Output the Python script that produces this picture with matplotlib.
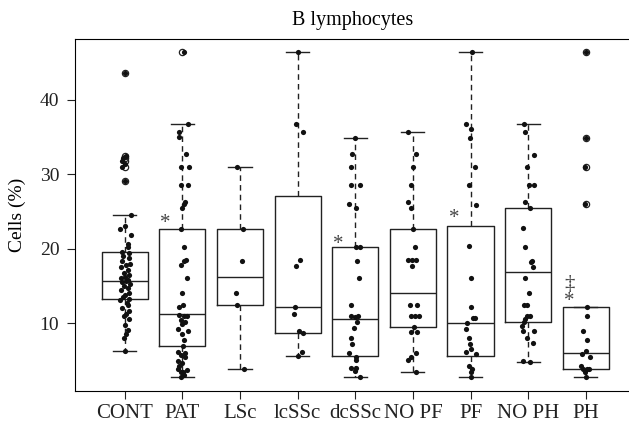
import matplotlib
matplotlib.use("Agg")
import matplotlib.pyplot as plt

plt.rcParams.update({
    "font.family": ["Liberation Serif", "DejaVu Serif"],
    "font.size": 14,
    "axes.linewidth": 0.8,
})

groups = ["CONT", "PAT", "LSc", "lcSSc", "dcSSc", "NO PF", "PF", "NO PH", "PH"]

# box statistics
q1 = [13.3, 7.0, 12.5, 8.7, 5.65, 9.5, 5.65, 10.2, 3.8]
medians = [15.6, 11.2, 16.2, 12.2, 10.5, 14.0, 10.0, 16.9, 6.0]
q3 = [19.5, 22.6, 22.6, 27.1, 20.2, 22.6, 23.1, 25.4, 12.2]
whisker_low = [6.3, 2.8, 3.8, 5.65, 2.8, 3.5, 2.8, 4.8, 2.8]
whisker_high = [24.5, 36.7, 31.0, 46.4, 34.9, 35.6, 46.4, 36.7, 12.2]
outliers = [
    [43.6, 32.4, 32.2, 31.8, 30.9, 29.1],
    [46.4], [], [], [], [], [], [],
    [46.4, 34.9, 30.9, 26.0],
]

# individual observations (value, horizontal jitter)
cont_vals = [43.6, 32.4, 32.2, 31.8, 31.3, 30.9, 29.1, 24.5, 23.1, 22.6, 21.9, 20.6, 20.2,
             19.5, 19.4, 19.0, 18.7, 18.3, 18.0, 17.8, 17.5, 17.2, 16.8, 16.5, 16.2, 16.0,
             15.8, 15.6, 15.5, 15.3, 15.0, 14.7, 14.4, 14.0, 13.8, 13.5, 13.3, 13.1, 12.7,
             12.4, 12.0, 11.7, 11.3, 10.9, 10.5, 9.8, 9.1, 8.5, 8.0, 6.3]
cont_jit = [0.0, 0.02, -0.03, -0.05, 0.01, -0.04, 0.01, 0.10, 0.00, -0.08, 0.10, 0.05, 0.06,
            -0.05, 0.08, -0.03, 0.07, -0.04, 0.09, 0.02, -0.06, 0.05, -0.02, 0.08, 0.00, -0.07,
            0.06, 0.03, -0.04, 0.09, -0.01, 0.05, -0.06, 0.07, 0.01, -0.03, 0.08, -0.08, 0.04,
            0.06, -0.05, 0.07, 0.02, -0.02, 0.08, 0.01, 0.06, 0.03, -0.01, 0.01]

pat_vals = [46.4, 36.7, 35.6, 35.0, 32.7, 30.9, 30.9, 28.6, 28.6, 26.3, 26.0, 25.5, 22.6,
            20.2, 18.5, 18.4, 17.8, 16.1, 14.0, 12.4, 12.2, 11.1, 11.0, 10.9, 10.4, 10.2,
            9.9, 9.2, 9.0, 8.5, 7.7, 7.0, 6.2, 6.0, 5.7, 5.4, 4.9, 4.7, 4.3, 3.8, 3.7, 3.5,
            3.4, 3.0, 2.8]
pat_jit = [0.03, 0.09, -0.05, -0.05, 0.06, -0.03, 0.11, -0.03, 0.10, 0.04, 0.02, 0.0, -0.03,
           0.03, 0.07, 0.02, -0.02, 0.08, 0.0, 0.01, -0.05, -0.06, 0.03, 0.08, -0.03, 0.05,
           0.0, -0.08, 0.10, 0.0, 0.02, 0.01, -0.08, 0.05, -0.02, 0.04, -0.08, 0.0, -0.05,
           -0.07, 0.08, 0.01, -0.03, 0.03, -0.02]

lsc_vals = [31.0, 22.6, 18.4, 14.0, 12.5, 3.8]
lsc_jit = [-0.06, 0.06, 0.03, -0.07, -0.05, 0.07]

lcssc_vals = [46.4, 36.7, 35.6, 18.5, 17.65, 12.2, 11.2, 8.9, 8.7, 6.2, 5.65]
lcssc_jit = [0.0, -0.03, 0.10, 0.04, -0.03, -0.05, -0.06, 0.02, 0.09, 0.08, 0.0]

dcssc_vals = [34.9, 32.7, 30.9, 28.6, 28.6, 26.0, 25.5, 20.2, 20.2, 18.4, 16.0, 12.4, 11.0,
              11.0, 10.8, 10.2, 9.3, 8.0, 7.2, 6.0, 5.5, 5.0, 4.0, 4.0, 3.6, 2.8]
dcssc_jit = [-0.01, -0.05, -0.07, -0.07, 0.08, -0.10, 0.02, 0.02, 0.08, 0.03, 0.06, -0.08,
             -0.07, 0.05, -0.01, 0.03, -0.03, -0.08, -0.05, -0.10, 0.02, 0.01, -0.07, 0.02,
             -0.01, 0.08]

nopf_vals = [35.6, 32.7, 31.0, 28.6, 26.3, 25.5, 22.6, 20.2, 18.5, 18.5, 18.5, 17.7, 12.4,
             12.4, 11.0, 11.0, 11.0, 9.5, 8.8, 8.8, 6.0, 5.5, 5.0, 3.5]
nopf_jit = [-0.08, 0.06, 0.01, -0.03, -0.08, -0.03, 0.01, 0.04, -0.08, -0.02, 0.06, -0.02,
            -0.05, 0.07, -0.03, 0.04, 0.10, 0.02, -0.03, 0.07, 0.06, -0.03, -0.08, 0.06]

pf_vals = [46.4, 36.7, 36.1, 34.9, 30.9, 28.5, 25.9, 20.3, 16.0, 12.2, 10.7, 10.7, 10.0,
           9.2, 8.0, 7.2, 6.5, 6.2, 5.9, 4.2, 3.8, 3.5, 2.8]
pf_jit = [0.03, -0.08, 0.0, -0.01, 0.08, -0.02, 0.09, -0.02, 0.01, 0.01, 0.05, 0.08, -0.06,
          -0.07, -0.03, -0.01, 0.01, -0.07, 0.09, -0.02, 0.03, 0.0, 0.0]

noph_vals = [36.7, 35.6, 32.6, 30.9, 28.6, 28.6, 26.3, 25.4, 22.8, 20.2, 18.4, 18.2, 17.6,
             16.0, 14.0, 12.4, 12.4, 11.0, 11.0, 10.6, 10.2, 9.6, 9.0, 9.0, 8.0, 7.3, 4.9, 4.8]
noph_jit = [-0.08, -0.05, 0.10, -0.02, 0.01, 0.10, -0.05, 0.03, -0.09, -0.05, 0.07, 0.05,
            0.08, -0.06, 0.01, -0.08, -0.02, -0.02, 0.04, -0.05, -0.08, -0.10, -0.09, 0.10,
            -0.02, 0.09, -0.09, 0.03]

ph_vals = [46.4, 34.9, 30.9, 26.0, 12.2, 10.9, 9.0, 7.7, 6.3, 5.8, 5.5, 4.2, 3.8, 3.8, 3.8,
           3.5, 2.8]
ph_jit = [0.0, 0.0, -0.01, -0.01, 0.02, 0.02, -0.05, 0.02, 0.01, -0.07, 0.08, -0.09, -0.05,
          0.05, 0.02, -0.01, 0.0]

points = [(cont_vals, cont_jit), (pat_vals, pat_jit), (lsc_vals, lsc_jit),
          (lcssc_vals, lcssc_jit), (dcssc_vals, dcssc_jit), (nopf_vals, nopf_jit),
          (pf_vals, pf_jit), (noph_vals, noph_jit), (ph_vals, ph_jit)]

# significance marks: (group index, level, text)
marks = [(1, 23.4, "*"), (4, 20.6, "*"), (6, 24.1, "*"), (8, 12.9, "*"), (8, 15.2, "\u2021")]

stats = []
for i in range(len(groups)):
    stats.append({"med": medians[i], "q1": q1[i], "q3": q3[i],
                  "whislo": whisker_low[i], "whishi": whisker_high[i],
                  "fliers": outliers[i]})

fig = plt.figure(figsize=(6.29, 4.30), dpi=100)
ax = fig.add_axes([0.1197, 0.0907, 0.8803, 0.8179])

positions = list(range(1, len(groups) + 1))
ax.bxp(stats, positions=positions, widths=0.8, capwidths=0.4,
       boxprops={"color": "#222222", "linewidth": 1.0},
       medianprops={"color": "#222222", "linewidth": 1.0},
       whiskerprops={"color": "#222222", "linewidth": 1.0, "linestyle": (0, (4, 3))},
       capprops={"color": "#222222", "linewidth": 1.0},
       flierprops={"marker": "o", "markerfacecolor": "none", "markeredgecolor": "#222222",
                   "markersize": 4.5, "markeredgewidth": 0.9})

for pos, (vals, jit) in zip(positions, points):
    xs = [pos + j for j in jit]
    ax.scatter(xs, vals, s=14, color="#111111", zorder=3, linewidths=0)

for idx, level, txt in marks:
    ax.text(positions[idx] - 0.29, level, txt, ha="center", va="center",
            fontsize=15, color="#444444")

ax.set_xlim(0.142, 9.75)
ax.set_ylim(0.9, 48.1)
ax.set_xticks(positions)
ax.set_xticklabels(groups)
ax.set_yticks([10, 20, 30, 40])
ax.tick_params(direction="out", length=6, width=0.8, colors="#222222")
ax.tick_params(axis="x", labelsize=15, pad=3.5)
ax.tick_params(axis="y", labelsize=14, pad=5.5)
ax.spines["right"].set_visible(False)
ax.set_ylabel("Cells (%)", fontsize=14, labelpad=10)
ax.set_title("B lymphocytes", fontsize=14.5, pad=10)

fig.savefig("out.png", dpi=100)
